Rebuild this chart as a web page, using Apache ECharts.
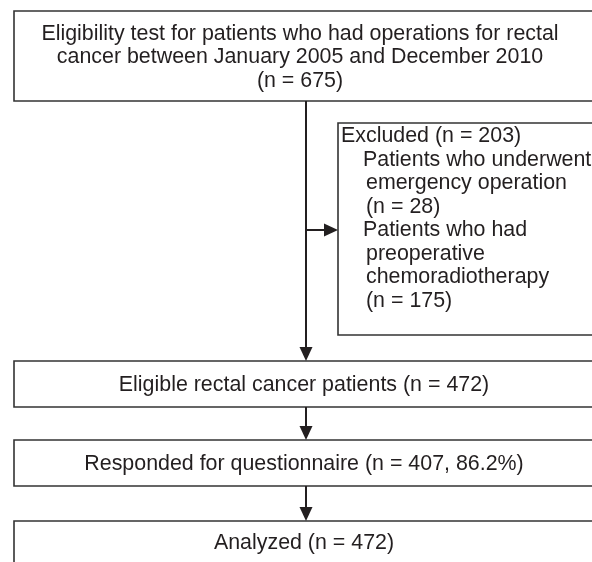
<!DOCTYPE html>
<html>
<head>
<meta charset="utf-8">
<script src="https://cdn.jsdelivr.net/npm/echarts@6/dist/echarts.min.js"></script>
<style>html,body{margin:0;padding:0;background:#fff;}#c{width:592px;height:562px;}</style>
</head>
<body>
<div id="c"></div>
<script>
// ---- data ----
const stageLabels = [
  'Eligibility test for patients who had operations for rectal\ncancer between January 2005 and December 2010',
  'Eligible rectal cancer patients',
  'Responded for questionnaire',
  'Analyzed'
];
const stageN = [675, 472, 407, 472];
const stagePct = [null, null, 86.2, null];
const stageNewlineN = [true, false, false, false];
const excludedLabel = 'Excluded';
const excludedN = 203;
const exclusionLabels = [
  ['Patients who underwent', 'emergency operation'],
  ['Patients who had', 'preoperative', 'chemoradiotherapy']
];
const exclusionN = [28, 175];

// ---- layout (pixel-space of hidden axes) ----
const W = 592, H = 562;
const stageBoxes = [[14, 11, 600, 101], [14, 361, 600, 407], [14, 440, 600, 486], [14, 521, 600, 563]];
const stageTextCX = [300, 304, 304, 304];
const exclBox = [338, 123, 600, 335];
const spineX = 306;
const branchY = 230;
const FONT = '21.4px "Liberation Sans", Arial, sans-serif';
const INK = '#231f20';
const LH = 23.5;
const TEXT_DY = 1.5;

function stageText(i) {
  let nPart = '(n = ' + stageN[i] + (stagePct[i] != null ? ', ' + stagePct[i].toFixed(1) + '%' : '') + ')';
  return stageLabels[i] + (stageNewlineN[i] ? '\n' : ' ') + nPart;
}

// exclusion box lines
const exclLines = [{ t: excludedLabel + ' (n = ' + excludedN + ')', ind: 0 }];
exclusionLabels.forEach((lines, k) => {
  lines.forEach((l, j) => exclLines.push({ t: l, ind: j === 0 ? 1 : 2 }));
  exclLines.push({ t: '(n = ' + exclusionN[k] + ')', ind: 2 });
});

const boxData = stageBoxes.map((b, i) => ({ value: b, txt: stageText(i) }));

const arrows = [
  [spineX, stageBoxes[0][3], spineX, stageBoxes[1][1]],
  [spineX, branchY, exclBox[0], branchY],
  [spineX, stageBoxes[1][3], spineX, stageBoxes[2][1]],
  [spineX, stageBoxes[2][3], spineX, stageBoxes[3][1]]
];

const chart = echarts.init(document.getElementById('c'), null, { renderer: 'canvas' });

chart.setOption({
  animation: false,
  backgroundColor: '#fff',
  grid: { left: 0, right: 0, top: 0, bottom: 0 },
  xAxis: { type: 'value', min: 0, max: W, show: false },
  yAxis: { type: 'value', min: 0, max: H, inverse: true, show: false },
  series: [
    {
      type: 'custom',
      coordinateSystem: 'cartesian2d',
      data: boxData.map(d => d.value),
      renderItem: function (params, api) {
        const p0 = api.coord([api.value(0), api.value(1)]);
        const p1 = api.coord([api.value(2), api.value(3)]);
        const txt = boxData[params.dataIndex].txt;
        return {
          type: 'group',
          children: [
            { type: 'rect', shape: { x: p0[0], y: p0[1], width: p1[0] - p0[0], height: p1[1] - p0[1] },
              style: { fill: '#fff', stroke: '#333', lineWidth: 1.6 } },
            { type: 'text', style: { text: txt, x: stageTextCX[params.dataIndex], y: (p0[1] + p1[1]) / 2 + TEXT_DY,
              font: FONT, fill: INK, align: 'center', verticalAlign: 'middle', lineHeight: LH } }
          ]
        };
      }
    },
    {
      type: 'custom',
      coordinateSystem: 'cartesian2d',
      data: [exclBox],
      renderItem: function (params, api) {
        const p0 = api.coord([api.value(0), api.value(1)]);
        const p1 = api.coord([api.value(2), api.value(3)]);
        const children = [
          { type: 'rect', shape: { x: p0[0], y: p0[1], width: p1[0] - p0[0], height: p1[1] - p0[1] },
            style: { fill: '#fff', stroke: '#333', lineWidth: 1.6 } }
        ];
        const indents = [3, 25, 28];
        exclLines.forEach((l, i) => {
          children.push({ type: 'text', style: { text: l.t, x: p0[0] + indents[l.ind], y: p0[1] + 12 + TEXT_DY + i * LH,
            font: FONT, fill: INK, align: 'left', verticalAlign: 'middle' } });
        });
        return { type: 'group', children: children };
      }
    },
    {
      type: 'custom',
      coordinateSystem: 'cartesian2d',
      data: arrows,
      renderItem: function (params, api) {
        const a = api.coord([api.value(0), api.value(1)]);
        const b = api.coord([api.value(2), api.value(3)]);
        const dx = b[0] - a[0], dy = b[1] - a[1];
        const len = Math.sqrt(dx * dx + dy * dy);
        const ux = dx / len, uy = dy / len;
        const hl = 14, hw = 6.5;
        const base = [b[0] - ux * hl, b[1] - uy * hl];
        return {
          type: 'group',
          children: [
            { type: 'line', shape: { x1: a[0], y1: a[1], x2: base[0], y2: base[1] },
              style: { stroke: INK, lineWidth: 2 } },
            { type: 'polygon', shape: { points: [[b[0], b[1]], [base[0] - uy * hw, base[1] + ux * hw], [base[0] + uy * hw, base[1] - ux * hw]] },
              style: { fill: INK } }
          ]
        };
      }
    }
  ]
});
</script>
</body>
</html>
